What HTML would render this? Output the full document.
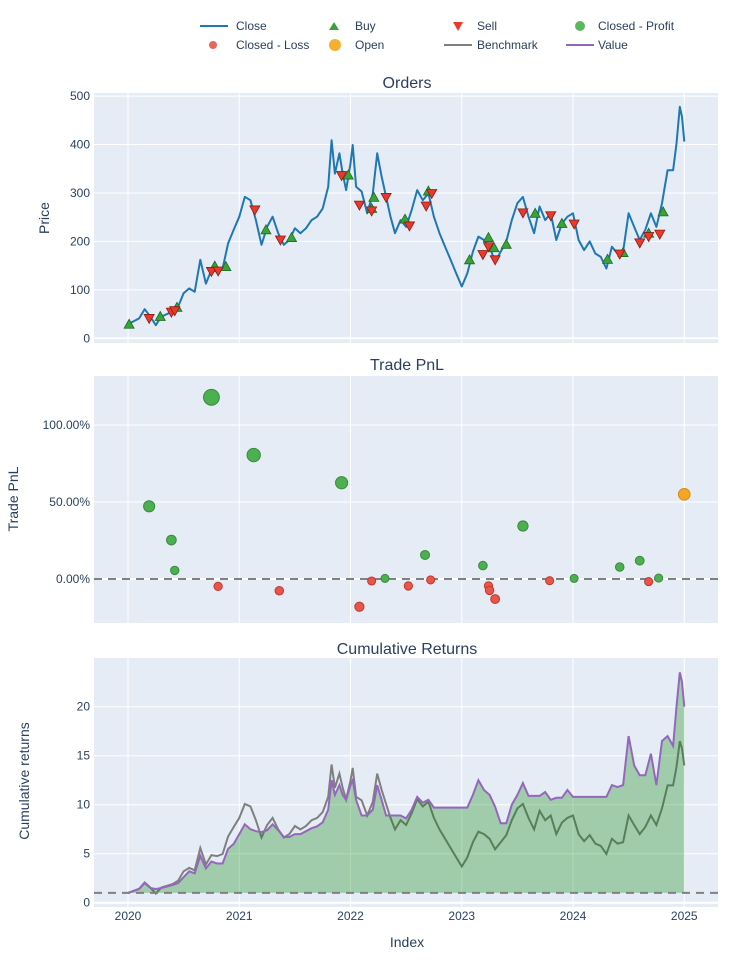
<!DOCTYPE html>
<html><head><meta charset="utf-8"><style>
body{margin:0;background:#fff;}
svg{display:block;font-family:"Liberation Sans","DejaVu Sans",sans-serif;}
</style></head><body>
<svg id="c" width="750" height="960" viewBox="0 0 750 960" xmlns="http://www.w3.org/2000/svg"></svg>
<script>
const dates=[2020.0,2020.1,2020.15,2020.2,2020.25,2020.3,2020.4,2020.45,2020.5,2020.55,2020.6,2020.65,2020.7,2020.75,2020.8,2020.85,2020.9,2020.95,
2021.0,2021.05,2021.1,2021.15,2021.2,2021.25,2021.3,2021.35,2021.4,2021.45,2021.5,2021.55,2021.6,2021.65,2021.7,2021.75,2021.8,2021.83,2021.86,2021.9,2021.93,2021.96,
2022.0,2022.02,2022.05,2022.1,2022.15,2022.2,2022.24,2022.28,2022.32,2022.36,2022.4,2022.45,2022.5,2022.55,2022.6,2022.65,2022.7,2022.75,2022.8,2022.85,2022.9,2022.95,
2023.0,2023.05,2023.1,2023.15,2023.2,2023.25,2023.3,2023.35,2023.4,2023.45,2023.5,2023.55,2023.6,2023.65,2023.7,2023.75,2023.8,2023.85,2023.9,2023.95,
2024.0,2024.05,2024.1,2024.15,2024.2,2024.25,2024.3,2024.35,2024.4,2024.45,2024.5,2024.55,2024.6,2024.65,2024.7,2024.75,2024.8,2024.85,2024.9,2024.93,2024.96,2024.98,2025.0];
const closePrice=[29,41,60,45,27,45,55,65,93,103,96,162,113,141,138,144,196,224,
251,292,285,244,193,230,251,217,193,203,227,217,227,244,251,268,313,409,340,382,340,306,
361,399,313,303,258,299,382,334,292,251,217,244,230,265,306,285,299,251,217,189,162,134,
107,134,179,210,203,189,158,179,200,244,279,292,251,217,272,244,258,203,237,251,
258,203,182,200,175,168,144,189,175,179,258,230,203,224,258,230,279,347,347,402,478,457,406];
const valueSeries=[1.0,1.4,2.0,1.5,1.4,1.5,1.8,2.0,2.6,3.2,3.0,4.8,3.5,4.2,4.0,4.0,5.5,6.0,
7.0,8.0,7.5,7.3,7.2,7.4,8.0,7.4,6.7,6.7,7.0,7.0,7.3,7.6,7.8,8.2,9.5,12.5,11.0,12.0,11.0,10.5,
12.0,12.5,10.5,8.9,8.9,9.5,12.0,10.5,8.9,8.9,8.9,8.9,8.6,9.5,10.8,10.2,10.5,9.7,9.7,9.7,9.7,9.7,
9.7,9.7,11.0,12.5,11.5,11.0,9.8,8.1,8.1,10.0,11.0,12.2,10.9,10.9,10.9,11.3,10.5,10.7,10.7,11.5,
10.8,10.8,10.8,10.8,10.8,10.8,10.8,12.0,11.8,12.0,17.0,14.0,13.0,13.0,15.2,12.0,16.5,17.0,16.0,20.0,23.5,22.5,20.0];
const buyDates=[2020.01,2020.29,2020.44,2020.78,2020.88,2021.24,2021.47,2021.98,2022.19,2022.21,2022.49,2022.70,2023.07,2023.24,2023.29,2023.40,2023.66,2023.90,2024.31,2024.45,2024.68,2024.81];
const buyPrices=[29,45,64,149,148,224,208,337,268,291,246,304,162,208,187,194,258,237,163,177,217,261];
const sellDates=[2020.19,2020.39,2020.42,2020.75,2020.81,2021.14,2021.37,2021.92,2022.08,2022.19,2022.32,2022.53,2022.68,2022.73,2023.19,2023.24,2023.30,2023.55,2023.80,2024.01,2024.42,2024.60,2024.68,2024.78];
const sellPrices=[41,54,57,138,139,265,203,336,275,263,291,232,273,299,173,189,162,259,253,236,174,197,210,215];
const profitDates=[2020.19,2020.39,2020.42,2020.75,2021.13,2021.92,2022.31,2022.67,2023.19,2023.55,2024.01,2024.42,2024.60,2024.77];
const profitPnl=[47.2,25.3,5.6,118,80.5,62.5,0.4,15.6,8.7,34.4,0.4,7.8,11.9,0.6];
const lossDates=[2020.81,2021.36,2022.08,2022.19,2022.52,2022.72,2023.24,2023.25,2023.30,2023.79,2024.68];
const lossPnl=[-4.8,-7.6,-18,-1.3,-4.5,-0.6,-4.5,-7.4,-13,-1.1,-1.7];
const openDates=[2025.0];
const openPnl=[55];
const yearTicks=[2020,2021,2022,2023,2024,2025];
const priceTicks=[0,100,200,300,400,500];
const pnlTicks=[0,50,100];
const cumTicks=[0,5,10,15,20];

const NS="http://www.w3.org/2000/svg";
const svg=document.getElementById('c');
function el(tag,attrs,parent){const e=document.createElementNS(NS,tag);for(const k in attrs)e.setAttribute(k,attrs[k]);(parent||svg).appendChild(e);return e;}
const X0=94,X1=718;
const xs=y=>128+(y-2020)*111.25;
const yPrice=v=>338.3-v*0.4844;
const yPnl=v=>579-v*1.54;
const yCum=v=>902.7-v*9.8;
const panels=[{top:93,bot:343,ticks:priceTicks,fy:yPrice,fmt:v=>String(v),name:'orders'},
{top:376,bot:623,ticks:pnlTicks,fy:yPnl,fmt:v=>v.toFixed(2)+'%',name:'pnl'},
{top:658,bot:907,ticks:cumTicks,fy:yCum,fmt:v=>String(v),name:'cum'}];
const TXT='#2a3f5f';
panels.forEach(p=>{
  const r=el('rect',{x:X0,y:p.top,width:X1-X0,height:p.bot-p.top,fill:'#e5ecf6'});
  
  
  yearTicks.forEach(t=>{const l=el('line',{x1:xs(t),x2:xs(t),y1:p.top,y2:p.bot,stroke:'#fff','stroke-width':1});
    
    });
  p.ticks.forEach(t=>{const y=p.fy(t);
    const l=el('line',{x1:X0,x2:X1,y1:y,y2:y,stroke:'#fff','stroke-width':t===0?2:1});
    
    
    const tx=el('text',{x:90,y:y+4,'text-anchor':'end','font-size':12,fill:TXT});tx.textContent=p.fmt(t);
    
    });
});
function addText(x,y,s,size,name,rot){const t=el('text',{x:x,y:y,'text-anchor':'middle','font-size':size,fill:TXT});
  if(rot)t.setAttribute('transform','rotate(-90 '+x+' '+y+')');t.textContent=s;
  
  return t;}
addText(407,88,'Orders',16,'orders-title');
addText(407,370,'Trade PnL',16,'pnl-title');
addText(407,654,'Cumulative Returns',16,'cum-title');
addText(49,218,'Price',14,'price-axis-title',true);
addText(18,499,'Trade PnL',14,'pnl-axis-title',true);
addText(29,781,'Cumulative returns',14,'cum-axis-title',true);
addText(407,947,'Index',14,'x-axis-title');
yearTicks.forEach(t=>{const tx=addText(xs(t),920,String(t),12,'x-tick-label');});

// Orders: close line
let d='';dates.forEach((t,i)=>{d+=(i?'L':'M')+xs(t).toFixed(1)+','+yPrice(closePrice[i]).toFixed(1);});
const cl=el('path',{d:d,fill:'none',stroke:'#1f77b4','stroke-width':2,'stroke-linejoin':'round'});


buyDates.forEach((t,i)=>{const x=xs(t),y=yPrice(buyPrices[i]);
  const m=el('path',{d:`M${x},${y-5}L${x+5},${y+4}L${x-5},${y+4}Z`,fill:'#37a33a',stroke:'#1e6b1e','stroke-width':0.8});
  
  });
sellDates.forEach((t,i)=>{const x=xs(t),y=yPrice(sellPrices[i]);
  const m=el('path',{d:`M${x},${y+5}L${x+5},${y-4}L${x-5},${y-4}Z`,fill:'#e8392c',stroke:'#8b1a12','stroke-width':0.8});
  
  });

// PnL
const zl=el('line',{x1:X0,x2:X1,y1:yPnl(0),y2:yPnl(0),stroke:'#808080','stroke-width':2,'stroke-dasharray':'8,6'});


const rad=v=>4+Math.abs(v)/30;
function dots(ds,vs,fill,stroke,name){ds.forEach((t,i)=>{const c=el('circle',{cx:xs(t),cy:yPnl(vs[i]),r:rad(vs[i]),fill:fill,stroke:stroke,'stroke-width':1});
  
  });}
dots(profitDates,profitPnl,'#4caf50','#3a8a3d','closed-profit-marker');
dots(lossDates,lossPnl,'#e8554a','#c0392b','closed-loss-marker');
dots(openDates,openPnl,'#f5a623','#d48a10','open-marker');

// Cumulative
const bench=closePrice.map(v=>v/closePrice[0]);
let bd='';dates.forEach((t,i)=>{bd+=(i?'L':'M')+xs(t).toFixed(1)+','+yCum(bench[i]).toFixed(1);});
const bl=el('path',{d:bd,fill:'none',stroke:'#7f7f7f','stroke-width':2});


let vd='';dates.forEach((t,i)=>{vd+=(i?'L':'M')+xs(t).toFixed(1)+','+yCum(valueSeries[i]).toFixed(1);});
const fa=el('path',{d:vd+`L${xs(dates[dates.length-1])},${yCum(1)}L${xs(dates[0])},${yCum(1)}Z`,fill:'rgba(0,128,0,0.3)',stroke:'none'});


const vl=el('path',{d:vd,fill:'none',stroke:'#9467bd','stroke-width':2});


const ol=el('line',{x1:X0,x2:X1,y1:yCum(1),y2:yCum(1),stroke:'#808080','stroke-width':2,'stroke-dasharray':'8,6'});



// Legend
const lg=el('g',{});


function legText(x,y,s){const t=el('text',{x:x,y:y+4,'font-size':12,fill:TXT},lg);t.textContent=s;
  
  }
function legLine(x,y,c){const l=el('line',{x1:x,x2:x+28,y1:y,y2:y,stroke:c,'stroke-width':2},lg);
  
  }
function legDot(x,y,c,r){const d=el('circle',{cx:x,cy:y,r:r,fill:c},lg);
  
  }
legLine(200,26,'#1f77b4');legText(236,26,'Close');
const bt=el('path',{d:'M334,22L339,30L329,30Z',fill:'#37a33a'},lg);


legText(355,26,'Buy');
const st=el('path',{d:'M458,31L463,22L453,22Z',fill:'#e8392c'},lg);


legText(477,26,'Sell');
legDot(580,26,'#5cb85c',5);legText(598,26,'Closed - Profit');
legDot(213,45,'#e8665c',4);legText(236,45,'Closed - Loss');
legDot(335,45,'#f5b030',6);legText(355,45,'Open');
legLine(444,45,'#7f7f7f');legText(477,45,'Benchmark');
legLine(566,45,'#9467bd');legText(598,45,'Value');
</script>
</body></html>
